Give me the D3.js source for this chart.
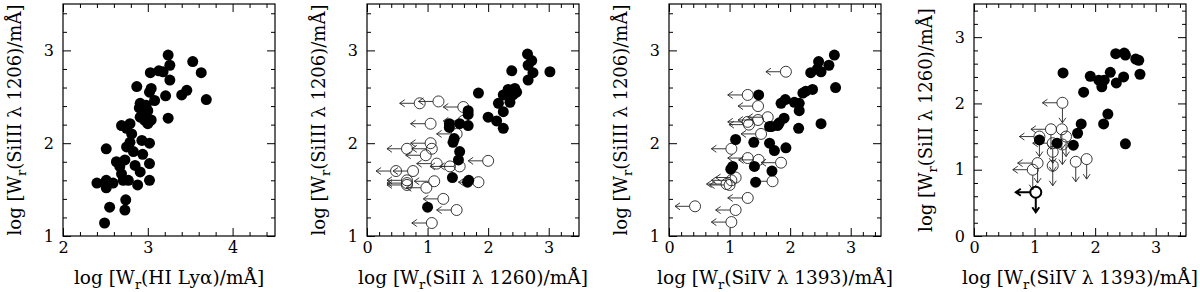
<!DOCTYPE html>
<html>
<head>
<meta charset="utf-8">
<script src="https://cdn.jsdelivr.net/npm/d3@7"></script>
<style>
body { margin: 0; background: #fff; }
svg { display: block; }
text { font-family: "DejaVu Serif", serif; fill: #000; }
</style>
</head>
<body>
<div id="chart"></div>
<script>
// Panel 1: SiIII vs HI Lya (all detections)
var p1X = [2.49,2.55,2.74,2.73,2.40,2.51,2.51,2.59,2.71,2.77,2.88,3.02,2.51,2.63,2.67,2.73,2.69,2.85,2.91,3.02,2.94,2.83,2.75,2.79,2.93,3.02,2.69,2.79,2.81,2.75,2.91,3.00,3.04,2.94,2.91,2.98,3.08,2.87,3.02,3.04,3.03,3.13,3.18,3.24,3.26,3.26,3.21,3.24,3.40,3.46,3.53,3.63,3.69,3.00,2.96,2.90];
var p1Y = [1.14,1.31,1.39,1.28,1.57,1.60,1.52,1.57,1.60,1.60,1.55,1.60,1.94,1.80,1.75,1.82,1.67,1.76,1.69,1.78,1.88,1.91,1.96,2.01,2.03,2.00,2.19,2.21,2.10,2.16,2.28,2.21,2.25,2.32,2.43,2.41,2.46,2.61,2.55,2.59,2.76,2.78,2.77,2.95,2.84,2.68,2.51,2.27,2.52,2.57,2.88,2.76,2.47,2.35,2.25,2.38];

// Panel 2: SiIII vs SiII
var p2X = [1.00,1.41,1.66,1.68,1.51,1.53,1.42,1.44,1.36,1.36,1.53,1.67,1.67,1.67,1.84,2.00,2.14,2.25,2.17,2.25,2.33,2.44,2.41,2.36,2.47,2.39,2.25,2.65,2.72,2.66,2.74,2.66,3.02];
var p2Y = [1.31,1.63,1.58,1.60,1.82,1.91,2.01,2.05,2.21,2.17,2.21,2.19,2.35,2.31,2.54,2.28,2.24,2.16,2.43,2.52,2.58,2.59,2.52,2.44,2.55,2.78,2.34,2.96,2.89,2.84,2.76,2.68,2.77];
var p2LimX = [1.18,0.87,1.59,1.05,1.59,1.48,1.05,1.07,0.66,0.97,1.15,1.53,1.37,2.00,0.76,0.48,0.66,0.66,1.11,0.98,1.84,1.26,1.48,1.07,0.66];
var p2LimY = [2.45,2.43,2.39,2.21,2.24,2.10,2.00,1.94,1.94,1.87,1.78,1.75,1.75,1.81,1.70,1.70,1.60,1.57,1.59,1.52,1.58,1.40,1.28,1.14,1.55];

// Panel 3: SiIII vs SiIV
var p3X = [1.48,1.10,1.40,1.66,1.74,1.93,1.05,1.02,1.41,1.70,1.43,1.66,1.79,1.85,1.90,2.73,2.47,2.64,2.34,2.51,2.45,2.75,2.37,2.26,2.21,1.92,2.07,2.15,2.15,1.82,1.80,1.69,2.14,2.51];
var p3Y = [2.52,2.04,2.01,2.00,1.92,1.95,1.75,1.72,1.75,1.70,1.58,2.18,2.19,2.43,2.27,2.95,2.88,2.84,2.76,2.77,2.80,2.60,2.58,2.56,2.54,2.47,2.44,2.43,2.35,2.22,2.20,2.18,2.16,2.21];
var p3LimX = [1.93,1.30,1.47,1.30,1.47,1.63,1.32,1.52,1.03,1.30,1.48,1.85,1.71,1.03,1.10,1.00,0.95,1.30,0.43,1.10,1.03];
var p3LimY = [2.77,2.52,2.40,2.23,2.25,2.28,2.20,2.10,1.94,1.84,1.82,1.79,1.59,1.60,1.63,1.55,1.56,1.41,1.32,1.28,1.15];

// Panel 4: SiII vs SiIV
var p4X = [1.47,2.34,2.48,2.50,2.67,2.72,2.74,1.92,2.06,2.15,2.11,2.25,2.35,2.47,1.81,2.21,2.14,1.77,1.71,1.64,2.50,1.37,1.08];
var p4Y = [2.46,2.75,2.76,2.73,2.67,2.65,2.44,2.41,2.35,2.35,2.25,2.47,2.31,2.40,2.17,1.84,1.69,1.69,1.55,1.37,1.39,1.40,1.45];
var p4LimX = [1.46,1.27,1.45,1.08,1.52,1.30,1.46,1.30,1.05,1.30,1.68,1.86,0.97,1.02];
var p4LimY = [2.01,1.61,1.61,1.50,1.50,1.40,1.38,1.27,1.10,1.06,1.12,1.16,1.00,0.66];
var p4LimLeft = [1,1,0,1,0,1,0,0,1,0,0,0,1,1];
var p4LimBold = [0,0,0,0,0,0,0,0,0,0,0,0,0,1];

// axis labels: [before subscript, subscript, after]
var xLabels = [
  ["log [W", "r", "(HI Ly\u03b1)/m\u00c5]"],
  ["log [W", "r", "(SiII \u03bb 1260)/m\u00c5]"],
  ["log [W", "r", "(SiIV \u03bb 1393)/m\u00c5]"],
  ["log [W", "r", "(SiIV \u03bb 1393)/m\u00c5]"]
];
var yLabels = [
  ["log [W", "r", "(SiIII \u03bb 1206)/m\u00c5]"],
  ["log [W", "r", "(SiIII \u03bb 1206)/m\u00c5]"],
  ["log [W", "r", "(SiIII \u03bb 1206)/m\u00c5]"],
  ["log [W", "r", "(SiII \u03bb 1260)/m\u00c5]"]
];

function zip(xs, ys) { return xs.map(function (v, i) { return { x: v, y: ys[i] }; }); }

var panels = [
  { xDom: [2, 4.5], yDom: [1, 3.5], det: zip(p1X, p1Y), lim: [] },
  { xDom: [0, 3.5], yDom: [1, 3.5], det: zip(p2X, p2Y),
    lim: zip(p2LimX, p2LimY).map(function (d) { d.left = 1; d.down = 0; return d; }) },
  { xDom: [0, 3.5], yDom: [1, 3.5], det: zip(p3X, p3Y),
    lim: zip(p3LimX, p3LimY).map(function (d) { d.left = 1; d.down = 0; return d; }) },
  { xDom: [0, 3.5], yDom: [0, 3.5], det: zip(p4X, p4Y),
    lim: zip(p4LimX, p4LimY).map(function (d, i) { d.left = p4LimLeft[i]; d.down = 1; d.bold = p4LimBold[i]; return d; }) }
];

var svg = d3.select("#chart").append("svg")
  .attr("width", 1200)
  .attr("height", 292);

var W = 212, H = 232, top0 = 4;
var lefts = [63, 367, 669, 974];
var R = 5.5, arrowLen = 20, headLen = 5;

function minorTicks(dom) {
  return d3.range(Math.ceil(dom[0] * 5), Math.floor(dom[1] * 5) + 1)
    .map(function (k) { return k / 5; })
    .filter(function (v) { return Math.abs(v - Math.round(v)) > 1e-6; });
}
function majorTicks(dom) {
  return d3.range(Math.ceil(dom[0]), Math.floor(dom[1]) + 1);
}

function addLabel(sel, parts) {
  sel.append("tspan").text(parts[0]);
  sel.append("tspan").attr("dy", 5).attr("font-size", "13px").text(parts[1]);
  sel.append("tspan").attr("dy", -5).text(parts[2]);
}

panels.forEach(function (cfg, i) {
  var g = svg.append("g").attr("transform", "translate(" + lefts[i] + "," + top0 + ")");
  var x = d3.scaleLinear().domain(cfg.xDom).range([0, W]);
  var y = d3.scaleLinear().domain(cfg.yDom).range([H, 0]);

  // inward ticks on all four sides
  var axes = [
    { ax: d3.axisBottom(x), tr: "translate(0," + H + ")", lab: true, dom: cfg.xDom, pad: 6 },
    { ax: d3.axisTop(x), tr: null, lab: false, dom: cfg.xDom, pad: 6 },
    { ax: d3.axisLeft(y), tr: null, lab: true, dom: cfg.yDom, pad: 9 },
    { ax: d3.axisRight(y), tr: "translate(" + W + ",0)", lab: false, dom: cfg.yDom, pad: 6 }
  ];
  axes.forEach(function (a) {
    var gm = g.append("g");
    if (a.tr) gm.attr("transform", a.tr);
    gm.call(a.ax.tickValues(minorTicks(a.dom)).tickSize(-4).tickFormat(""));
    gm.select(".domain").remove();
    var gM = g.append("g");
    if (a.tr) gM.attr("transform", a.tr);
    gM.call(a.ax.tickValues(majorTicks(a.dom)).tickSize(-8).tickPadding(a.pad)
      .tickFormat(a.lab ? d3.format("d") : ""));
    gM.select(".domain").remove();
    gM.selectAll("text").attr("font-size", "16px").attr("font-family", "DejaVu Serif, serif");
  });
  g.selectAll(".tick line").attr("stroke", "#000").attr("stroke-width", 1);

  g.append("rect")
    .attr("width", W).attr("height", H)
    .attr("fill", "none").attr("stroke", "#000").attr("stroke-width", 1.2);

  // upper limits: open circles with arrows
  var lim = g.append("g").selectAll("g").data(cfg.lim).enter().append("g")
    .attr("stroke", function (d) { return d.bold ? "#000" : "#222"; })
    .attr("fill", "none")
    .attr("stroke-width", function (d) { return d.bold ? 2 : 0.9; });
  lim.append("circle")
    .attr("cx", function (d) { return x(d.x); })
    .attr("cy", function (d) { return y(d.y); })
    .attr("r", R);
  lim.filter(function (d) { return d.left; }).append("path")
    .attr("d", function (d) {
      var cx = x(d.x), cy = y(d.y), tx = cx - arrowLen;
      return "M" + (cx - R) + "," + cy + "H" + tx +
        "M" + (tx + headLen) + "," + (cy - 3.5) + "L" + tx + "," + cy + "L" + (tx + headLen) + "," + (cy + 3.5);
    });
  lim.filter(function (d) { return d.down; }).append("path")
    .attr("d", function (d) {
      var cx = x(d.x), cy = y(d.y), ty = cy + arrowLen;
      return "M" + cx + "," + (cy + R) + "V" + ty +
        "M" + (cx - 3.5) + "," + (ty - headLen) + "L" + cx + "," + ty + "L" + (cx + 3.5) + "," + (ty - headLen);
    });

  // detections: filled circles
  g.append("g").selectAll("circle").data(cfg.det).enter().append("circle")
    .attr("cx", function (d) { return x(d.x); })
    .attr("cy", function (d) { return y(d.y); })
    .attr("r", R)
    .attr("fill", "#000");

  // axis titles
  var xt = g.append("text")
    .attr("x", W / 2).attr("y", H + 48)
    .attr("text-anchor", "middle")
    .attr("font-size", "18.5px");
  addLabel(xt, xLabels[i]);

  var yt = g.append("text")
    .attr("transform", "translate(-42," + (H / 2) + ") rotate(-90)")
    .attr("text-anchor", "middle")
    .attr("font-size", "18px");
  addLabel(yt, yLabels[i]);
});
</script>
</body>
</html>
